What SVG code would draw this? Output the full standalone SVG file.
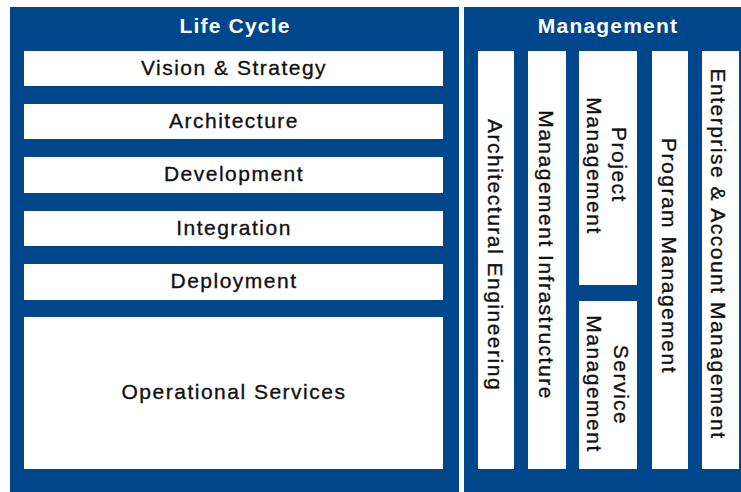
<svg xmlns="http://www.w3.org/2000/svg" width="741" height="492" viewBox="0 0 741 492">
  <style>
    .panel { fill: #00468b; }
    .box { fill: #ffffff; }
    .title { font-family: "Liberation Sans", Arial, sans-serif; font-size: 21px; font-weight: bold; fill: #ffffff; text-anchor: middle; letter-spacing: 1.2px; }
    .lbl { font-family: "Liberation Sans", Arial, sans-serif; font-size: 21px; fill: #111111; stroke: #111111; stroke-width: 0.35px; text-anchor: middle; letter-spacing: 1.5px; }
  </style>
  <rect x="0" y="0" width="741" height="492" fill="#ffffff"/>
  <g id="lifecycle">
    <rect class="panel" x="10" y="7" width="449" height="485"/>
    <text class="title" x="235" y="33">Life Cycle</text>
  </g>
  <g id="management">
    <rect class="panel" x="464" y="7" width="277" height="485"/>
    <text class="title" x="608" y="33">Management</text>
  </g>
  <g id="vision">
    <rect class="box" x="24" y="51" width="419" height="35"/>
    <text class="lbl" x="234" y="75">Vision &amp; Strategy</text>
  </g>
  <g id="architecture">
    <rect class="box" x="24" y="104" width="419" height="35"/>
    <text class="lbl" x="234" y="128">Architecture</text>
  </g>
  <g id="development">
    <rect class="box" x="24" y="157" width="419" height="36"/>
    <text class="lbl" x="234" y="181">Development</text>
  </g>
  <g id="integration">
    <rect class="box" x="24" y="211" width="419" height="35"/>
    <text class="lbl" x="234" y="235">Integration</text>
  </g>
  <g id="deployment">
    <rect class="box" x="24" y="264" width="419" height="36"/>
    <text class="lbl" x="234" y="288">Deployment</text>
  </g>
  <g id="operational">
    <rect class="box" x="24" y="317" width="419" height="152"/>
    <text class="lbl" x="234" y="399">Operational Services</text>
  </g>
  <g id="arch-eng">
    <rect class="box" x="478" y="51" width="36" height="418"/>
    <text class="lbl" transform="translate(488,255) rotate(90)" x="0" y="0">Architectural Engineering</text>
  </g>
  <g id="mgmt-infra">
    <rect class="box" x="528" y="51" width="38" height="418"/>
    <text class="lbl" transform="translate(539,255) rotate(90)" x="0" y="0">Management Infrastructure</text>
  </g>
  <g id="project-mgmt">
    <rect class="box" x="579" y="51" width="58" height="234"/>
    <text class="lbl" transform="translate(612,165) rotate(90)" x="0" y="0">Project</text>
    <text class="lbl" transform="translate(587,166) rotate(90)" x="0" y="0">Management</text>
  </g>
  <g id="service-mgmt">
    <rect class="box" x="579" y="301" width="58" height="168"/>
    <text class="lbl" transform="translate(614,385) rotate(90)" x="0" y="0">Service</text>
    <text class="lbl" transform="translate(587,384) rotate(90)" x="0" y="0">Management</text>
  </g>
  <g id="program-mgmt">
    <rect class="box" x="652" y="51" width="36" height="418"/>
    <text class="lbl" transform="translate(662,256) rotate(90)" x="0" y="0">Program Management</text>
  </g>
  <g id="enterprise-mgmt">
    <rect class="box" x="702" y="51" width="37" height="418"/>
    <text class="lbl" transform="translate(711,254) rotate(90)" x="0" y="0">Enterprise &amp; Account Management</text>
  </g>
  <g id="connectors"></g>
</svg>
